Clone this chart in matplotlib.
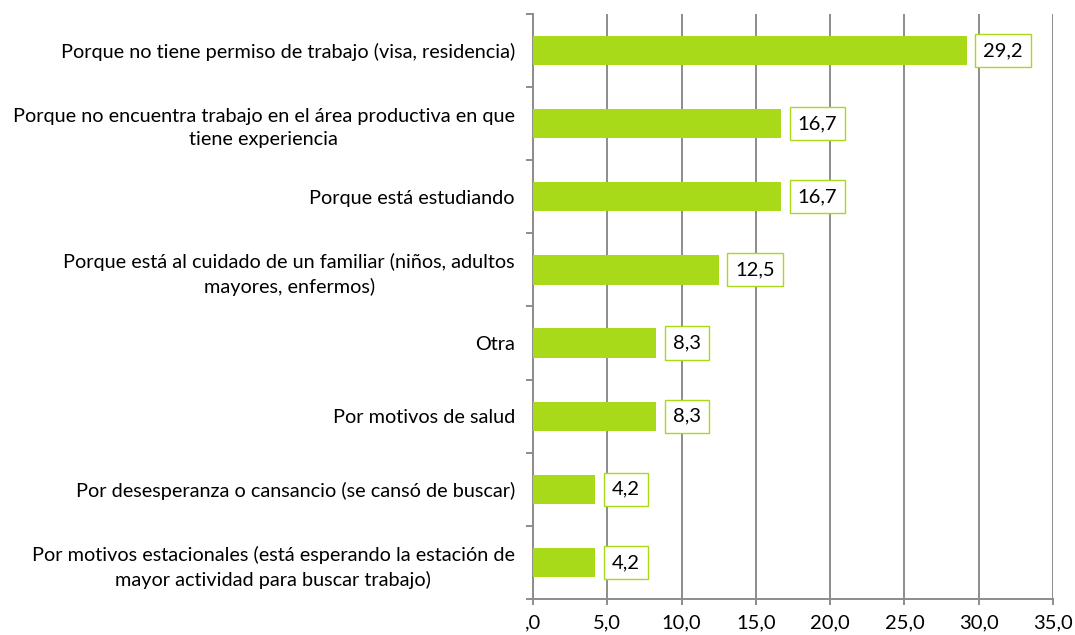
import matplotlib.pyplot as plt
from matplotlib.ticker import FuncFormatter, FixedLocator

plt.rcParams['font.family'] = ['Lato', 'DejaVu Sans']

categories = [
    "Porque no tiene permiso de trabajo (visa, residencia)",
    "Porque no encuentra trabajo en el área productiva en que\ntiene experiencia",
    "Porque está estudiando",
    "Porque está al cuidado de un familiar (niños, adultos\nmayores, enfermos)",
    "Otra",
    "Por motivos de salud",
    "Por desesperanza o cansancio (se cansó de buscar)",
    "Por motivos estacionales (está esperando la estación de\nmayor actividad para buscar trabajo)",
]
values = [29.2, 16.7, 16.7, 12.5, 8.3, 8.3, 4.2, 4.2]

green = "#A8DA1A"
grey = "#8C8C8C"

fig = plt.figure(figsize=(10.75, 6.35), dpi=100)
ax = fig.add_axes([0.4958, 0.0567, 0.4837, 0.9213])

pos = list(range(len(values)))
ax.barh(pos, values, height=0.4, color=green, zorder=3)

for y, v in zip(pos, values):
    ax.annotate(f"{v:.1f}".replace(".", ","), xy=(v, y), xytext=(12, 0),
                textcoords="offset points", va="center", ha="left", fontsize=14.5,
                bbox=dict(boxstyle="square,pad=0.4", fc="white", ec=green, lw=1))

ax.set_xlim(0, 35)
ax.set_ylim(len(values) - 0.5, -0.5)

ax.set_xticks(range(0, 36, 5))
ax.xaxis.set_major_formatter(FuncFormatter(
    lambda v, p: ",0" if v == 0 else f"{v:.1f}".replace(".", ",")))
ax.grid(axis="x", color=grey, lw=1.4, zorder=0)

ax.set_yticks(pos)
ax.set_yticklabels(categories, multialignment="center", fontsize=14.3, linespacing=1.45)
ax.tick_params(axis="y", which="major", length=0, pad=13)
ax.yaxis.set_minor_locator(FixedLocator([i - 0.5 for i in range(len(values) + 1)]))
ax.tick_params(axis="y", which="minor", length=5, color=grey, width=1.4)
ax.tick_params(axis="x", length=4, color=grey, width=1.4, labelsize=14.5, pad=7)

for s in ["top", "right"]:
    ax.spines[s].set_visible(False)
for s in ["left", "bottom"]:
    ax.spines[s].set_color(grey)
    ax.spines[s].set_linewidth(1.4)

fig.savefig("out.png", dpi=100)
